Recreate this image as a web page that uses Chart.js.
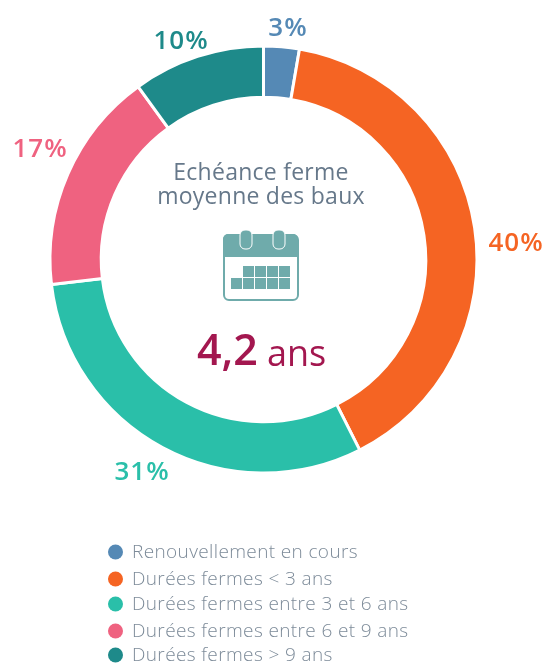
<!DOCTYPE html>
<html lang="fr">
<head>
<meta charset="utf-8">
<title>Echéance ferme moyenne des baux</title>
<script src="https://cdn.jsdelivr.net/npm/chart.js@4"></script>
<style>
  html, body { margin:0; padding:0; background:#fff; }
  #wrap { position:relative; width:546px; height:664px; overflow:hidden; }
  #chart { position:absolute; left:0; top:0; }
</style>
</head>
<body>
<div id="wrap"><canvas id="chart" width="546" height="664"></canvas></div>
<script>
const categories = ['Renouvellement en cours', 'Durées fermes < 3 ans', 'Durées fermes entre 3 et 6 ans', 'Durées fermes entre 6 et 9 ans', 'Durées fermes > 9 ans'];
const sliceValues = [2.7, 39.9, 30.6, 16.9, 10];
const sliceLabels = ['3%', '40%', '31%', '17%', '10%'];
const sliceColors = ['#5589b5', '#f56423', '#2abfa9', '#ef6280', '#1e8a8a'];

const titleLines = ['Echéance ferme', 'moyenne des baux'];
const centerNumber = '4,2';
const centerUnit = 'ans';

// Layout only
const labelSpots = [[288,29], [516,244], [142,473], [40,150], [181,42]];
const legendRows = [552, 579, 604, 631, 655];
const FONT = '"Open Sans", Lato, sans-serif';

function drawCalendar(ctx){
  const teal = '#6fabab';
  ctx.save();
  ctx.fillStyle = '#fff';
  ctx.strokeStyle = teal;
  ctx.lineWidth = 2;
  ctx.beginPath(); ctx.roundRect(224, 235, 74, 65, 5); ctx.fill(); ctx.stroke();
  ctx.fillStyle = teal;
  ctx.beginPath(); ctx.roundRect(223, 234, 75, 23, [5,5,0,0]); ctx.fill();
  // binder rings
  [240, 273].forEach(x => {
    ctx.beginPath(); ctx.roundRect(x, 230, 12, 19, 5);
    ctx.fill();
    ctx.strokeStyle = '#fff'; ctx.lineWidth = 1; ctx.stroke();
  });
  // day cells
  for (let i = 0; i < 4; i++) ctx.fillRect(243 + i*12, 266, 11, 11);
  for (let i = 0; i < 5; i++) ctx.fillRect(231 + i*12, 278, 11, 11);
  ctx.restore();
}

const ringText = {
  id: 'ringText',
  afterDraw(chart){
    const ctx = chart.ctx;
    ctx.save();
    ctx.textBaseline = 'middle';
    ctx.textAlign = 'center';

    ctx.letterSpacing = '1px';
    ctx.font = '600 26px ' + FONT;
    sliceLabels.forEach((txt, i) => {
      ctx.fillStyle = sliceColors[i];
      ctx.fillText(txt, labelSpots[i][0], labelSpots[i][1]);
    });

    ctx.letterSpacing = '0.25px';
    ctx.fillStyle = '#66788a';
    ctx.font = '400 23px ' + FONT;
    ctx.fillText(titleLines[0], 261, 173);
    ctx.fillText(titleLines[1], 261, 197);

    drawCalendar(ctx);

    ctx.letterSpacing = '0px';
    ctx.textAlign = 'left';
    ctx.fillStyle = '#a3174f';
    ctx.font = '600 43px ' + FONT;
    ctx.fillText(centerNumber, 197, 353);
    ctx.font = '400 36px ' + FONT;
    ctx.fillText(centerUnit, 267, 356);

    ctx.letterSpacing = '0.37px';
    ctx.font = '300 19px ' + FONT;
    categories.forEach((txt, i) => {
      ctx.fillStyle = sliceColors[i];
      ctx.beginPath(); ctx.arc(115.5, legendRows[i], 7.5, 0, Math.PI*2); ctx.fill();
      ctx.fillStyle = '#7d8b99';
      ctx.fillText(txt, 132, legendRows[i] + 1);
    });
    ctx.restore();
  }
};

new Chart(document.getElementById('chart'), {
  type: 'doughnut',
  data: {
    labels: categories,
    datasets: [{ data: sliceValues, backgroundColor: sliceColors, borderColor: '#fff', borderWidth: 3 }]
  },
  options: {
    responsive: false,
    animation: false,
    cutout: '76%',
    layout: { padding: { left: 48.5, top: 44.5, right: 67.5, bottom: 189.5 } },
    plugins: { legend: { display: false }, tooltip: { enabled: false } }
  },
  plugins: [ringText]
});
</script>
</body>
</html>
